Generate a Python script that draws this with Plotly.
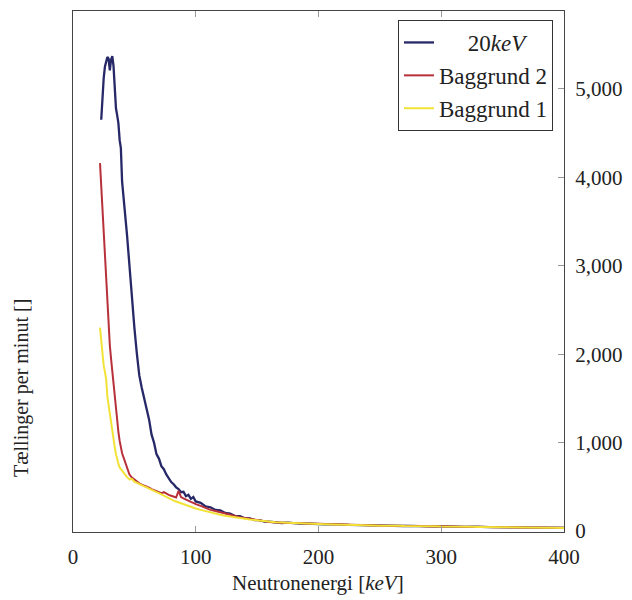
import plotly.graph_objects as go

# energy grid [keV]
energy = [
    22, 23, 24, 25, 26, 27, 28, 29, 30, 31, 32, 33, 34, 35, 36, 37, 38, 39, 40,
    42, 44, 46, 48, 50, 52, 54, 56, 58, 60, 62, 64, 66, 68, 70, 72, 74, 76, 78, 80,
    82, 84, 86, 88, 90, 92, 94, 96, 98, 100,
    104, 108, 112, 116, 120, 124, 128, 132, 136, 140, 144, 148, 152, 156, 160,
    165, 170, 175, 180, 185, 190, 195, 200, 205, 210, 215, 220, 225, 230, 235, 240,
    245, 250, 255, 260, 265, 270, 275, 280, 285, 290, 295, 300, 305, 310, 315, 320,
    325, 330, 335, 340, 345, 350, 355, 360, 365, 370, 375, 380, 385, 390, 395, 400,
]

# counts per minute
kev20 = [
    None, 4650, 4950, 5120, 5250, 5320, 5360, 5340, 5210, 5330, 5370, 5260, 4950, 4780, 4700, 4610, 4420, 4330, 3950,
    3680, 3350, 3000, 2620, 2300, 2010, 1760, 1620, 1500, 1360, 1260, 1090, 1000, 870, 820, 735, 700, 640, 600, 555,
    530, 495, 475, 440, 445, 395, 410, 365, 385, 335,
    320, 280, 270, 240, 235, 205, 198, 170, 168, 146, 145, 124, 124, 108, 108,
    98, 92, 95, 88, 85, 86, 80, 82, 76, 78, 72, 74, 70, 68, 71, 65,
    66, 62, 64, 60, 61, 58, 60, 56, 57, 54, 55, 52, 53, 50, 51, 48,
    50, 46, 47, 45, 46, 43, 44, 42, 43, 40, 42, 39, 40, 38, 39, 36,
]
baggrund2 = [
    4160, 3900, 3680, 3400, 3050, 2750, 2500, 2300, 2100, 1950, 1800, 1650, 1500, 1360, 1220, 1120, 1020, 950, 880,
    800, 710, 640, 605, 580, 560, 540, 525, 515, 500, 490, 475, 465, 455, 445, 430, 440, 420, 410, 400,
    392, 380, 455, 385, 370, 355, 345, 330, 320, 305,
    285, 262, 240, 228, 212, 200, 185, 170, 158, 148, 138, 127, 118, 110, 104,
    96, 94, 90, 90, 84, 83, 82, 78, 79, 74, 75, 71, 72, 67, 69, 66,
    63, 64, 60, 62, 58, 59, 57, 58, 54, 56, 52, 54, 51, 52, 49, 50,
    47, 48, 45, 47, 44, 45, 42, 44, 41, 42, 40, 41, 38, 40, 37, 38,
]
baggrund1 = [
    2300, 2150, 2000, 1870, 1800, 1720, 1520, 1420, 1330, 1200, 1100, 1020, 950, 870, 800, 760, 720, 700, 680,
    640, 610, 585, 590, 560, 545, 530, 520, 505, 495, 480, 470, 455, 440, 430, 415, 400, 385, 375, 360,
    345, 335, 325, 312, 300, 290, 280, 270, 262, 255,
    240, 225, 210, 198, 185, 175, 165, 155, 148, 140, 132, 125, 118, 112, 106,
    100, 96, 92, 88, 87, 83, 84, 80, 78, 77, 73, 74, 69, 70, 66, 67,
    64, 61, 63, 59, 60, 57, 58, 55, 56, 53, 54, 51, 52, 49, 50, 47,
    48, 46, 46, 44, 45, 42, 43, 41, 42, 39, 40, 38, 39, 37, 38, 35,
]

series = [
    ("&nbsp;&nbsp;&nbsp;&nbsp;&nbsp;20<i>keV</i>", kev20, "#262868", 2.3),
    ("Baggrund 2", baggrund2, "#b8313a", 2),
    ("Baggrund 1", baggrund1, "#f2e236", 2),
]

FONT = "Liberation Serif"

# the page body adds an 8px margin, so the figure is a bit smaller than the window
W, H = 624, 592
L, R, T, B = 65, 68, 3, 68
plot_w = W - L - R
plot_h = H - T - B


def px_to_paper(px, py):
    # window pixel -> paper coordinates
    return (px - 8 - L) / plot_w, (H - B - (py - 8)) / plot_h


fig = go.Figure()
for name, counts, colour, lw in series:
    fig.add_trace(go.Scatter(x=energy, y=counts, name=name, mode="lines",
                             line=dict(color=colour, width=lw)))

xt_x, xt_y = px_to_paper(318, 583)
yt_x, yt_y = px_to_paper(21, 388)
lg_x, lg_y = px_to_paper(553, 20)

fig.update_layout(
    width=W, height=H,
    margin=dict(l=L, r=R, t=T, b=B),
    paper_bgcolor="white", plot_bgcolor="white",
    font=dict(family=FONT, size=21, color="#222"),
    showlegend=True,
    legend=dict(x=lg_x, y=lg_y, xanchor="right", yanchor="top",
                bgcolor="white", bordercolor="#333", borderwidth=1,
                font=dict(family=FONT, size=23), tracegroupgap=0),
    xaxis=dict(range=[0, 400], tickvals=[0, 100, 200, 300, 400],
               ticks="inside", ticklen=6, tickcolor="#999",
               showline=True, linecolor="#444", linewidth=1, mirror="ticks",
               showgrid=False, zeroline=False, ticklabelstandoff=6),
    yaxis=dict(range=[-10, 5880], tickvals=[0, 1000, 2000, 3000, 4000, 5000],
               tickformat=",", side="right",
               ticks="inside", ticklen=6, tickcolor="#999",
               showline=True, linecolor="#444", linewidth=1, mirror=True,
               showgrid=False, zeroline=False, ticklabelstandoff=6),
    annotations=[
        dict(text="Neutronenergi [<i>keV</i>]", x=xt_x, y=xt_y,
             xref="paper", yref="paper", showarrow=False,
             xanchor="center", yanchor="middle"),
        dict(text="Tællinger per minut []", textangle=-90, x=yt_x, y=yt_y,
             xref="paper", yref="paper", showarrow=False,
             xanchor="center", yanchor="middle", font=dict(size=20)),
    ],
)

fig.write_html("out.html")
